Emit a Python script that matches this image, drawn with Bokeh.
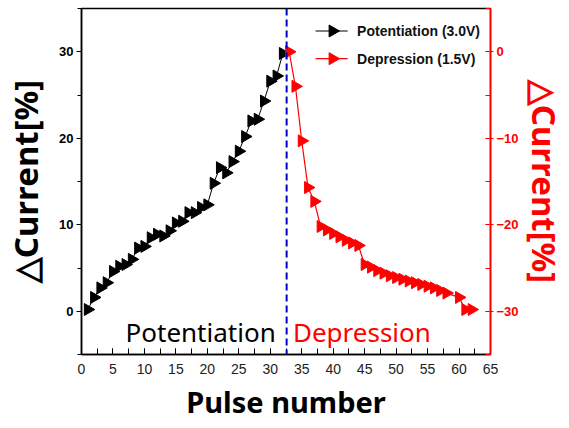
import math
from bokeh.plotting import figure
from bokeh.models import (Range1d, LinearAxis, SingleIntervalTicker, Span, Label)
from bokeh.embed import file_html
from bokeh.resources import INLINE

# ---- data ----
pot_x = list(range(1, 33))
pot_y = [0.2, 1.6, 2.7, 3.3, 4.6, 5.2, 5.4, 6.0, 7.3, 7.5, 8.5, 8.9, 8.7, 9.3,
         10.2, 10.4, 11.4, 11.4, 12.0, 12.3, 14.8, 16.6, 16.0, 17.3, 18.5, 20.2,
         22.0, 22.2, 24.3, 26.6, 27.2, 29.8]

dep_x = [33, 34, 35, 36, 37, 38, 39, 40, 41, 42, 43, 44, 45, 46, 47, 48, 49,
         50, 51, 52, 53, 54, 55, 56, 57, 58, 60, 61, 62]
dep_y = [0.0, -4.0, -10.3, -15.7, -17.3, -20.2, -20.6, -21.0, -21.4, -21.8,
         -22.1, -22.4, -24.6, -24.9, -25.3, -25.6, -25.9, -26.1, -26.3, -26.5,
         -26.7, -26.9, -27.1, -27.3, -27.6, -27.9, -28.4, -29.8, -29.8]

divider_x = 32.6
pot_label = "Potentiation (3.0V)"
dep_label = "Depression (1.5V)"
y_title = "\u25b3Current[%]"
x_title = "Pulse number"

RED = "#ff0000"
BIG = "Noto Sans"
SMALL = "Liberation Sans"

p = figure(width=569, height=428, output_backend="svg", toolbar_location=None,
           x_range=Range1d(0, 65), y_range=Range1d(-5, 35),
           min_border_left=80, min_border_right=77, min_border_top=8,
           min_border_bottom=74, x_axis_location=None, y_axis_location=None)
p.extra_y_ranges = {"right": Range1d(-35, 5)}
p.grid.visible = False
p.outline_line_color = "black"
p.outline_line_width = 1.5
p.background_fill_color = "white"
p.border_fill_color = "white"

# bottom axis
xa = LinearAxis(ticker=SingleIntervalTicker(interval=5, num_minor_ticks=2))
xa.axis_label = x_title
xa.axis_label_text_font = BIG
xa.axis_label_text_font_style = "bold"
xa.axis_label_text_font_size = "29px"
xa.axis_label_text_color = "black"
xa.axis_label_standoff = 5
xa.major_label_text_font = SMALL
xa.major_label_text_font_size = "14px"
xa.major_label_text_color = "#222222"
xa.major_label_standoff = 9
xa.major_tick_in = 6
xa.major_tick_out = 0
xa.minor_tick_in = 6
xa.minor_tick_out = 0
xa.axis_line_width = 1.5
p.add_layout(xa, "below")

# left axis
ya = LinearAxis(ticker=SingleIntervalTicker(interval=10, num_minor_ticks=2))
ya.axis_label = y_title
ya.axis_label_text_font = BIG
ya.axis_label_text_font_style = "bold"
ya.axis_label_text_font_size = "33px"
ya.axis_label_text_color = "black"
ya.axis_label_standoff = 8
ya.major_label_text_font = SMALL
ya.major_label_text_font_style = "bold"
ya.major_label_text_font_size = "13px"
ya.major_label_text_color = "black"
ya.major_label_standoff = 3
ya.major_tick_in = 0
ya.major_tick_out = 5
ya.minor_tick_in = 0
ya.minor_tick_out = 4
ya.axis_line_width = 1.5
p.add_layout(ya, "left")

# right axis
ra = LinearAxis(y_range_name="right",
                ticker=SingleIntervalTicker(interval=10, num_minor_ticks=2))
ra.axis_label = y_title
ra.axis_label_text_font = BIG
ra.axis_label_text_font_style = "bold"
ra.axis_label_text_font_size = "33px"
ra.axis_label_text_color = RED
ra.axis_label_standoff = 0
ra.major_label_text_font = SMALL
ra.major_label_text_font_style = "bold"
ra.major_label_text_font_size = "13px"
ra.major_label_text_color = RED
ra.major_label_standoff = 3
ra.axis_line_color = RED
ra.axis_line_width = 1.5
ra.major_tick_line_color = RED
ra.minor_tick_line_color = RED
ra.major_tick_in = 5
ra.major_tick_out = 3
ra.minor_tick_in = 5
ra.minor_tick_out = 0
p.add_layout(ra, "right")

# data
p.line(pot_x, pot_y, line_color="black", line_width=1)
p.scatter(pot_x, pot_y, marker="triangle", size=12, angle=-math.pi / 2,
          fill_color="black", line_color="black")
p.line(dep_x, dep_y, line_color=RED, line_width=1.2, y_range_name="right")
p.scatter(dep_x, dep_y, marker="triangle", size=12, angle=-math.pi / 2,
          fill_color=RED, line_color=RED, y_range_name="right")

p.add_layout(Span(location=divider_x, dimension="height", line_color="#0000cc",
                  line_width=2, line_dash="7 4"))

p.add_layout(Label(x=7.0, y=-2.4, text="Potentiation", text_font=BIG,
                   text_font_size="26px", text_color="black",
                   text_baseline="middle"))
p.add_layout(Label(x=33.6, y=-2.4, text="Depression", text_font=BIG,
                   text_font_size="26px", text_color=RED,
                   text_baseline="middle"))

# legend (drawn by hand so the sample triangles point right)
leg_rows = [(pot_label, "black", 32.4), (dep_label, RED, 29.2)]
for lab, col, ly in leg_rows:
    p.line([37.2, 42.3], [ly, ly], line_color=col, line_width=1.2)
    p.scatter([39.9], [ly], marker="triangle", size=12, angle=-math.pi / 2,
              fill_color=col, line_color=col)
    p.add_layout(Label(x=43.8, y=ly, text=lab, text_font=SMALL,
                       text_font_style="bold", text_font_size="14px",
                       text_color="#111111", text_baseline="middle"))

open("out.html", "w").write(file_html(p, INLINE))
